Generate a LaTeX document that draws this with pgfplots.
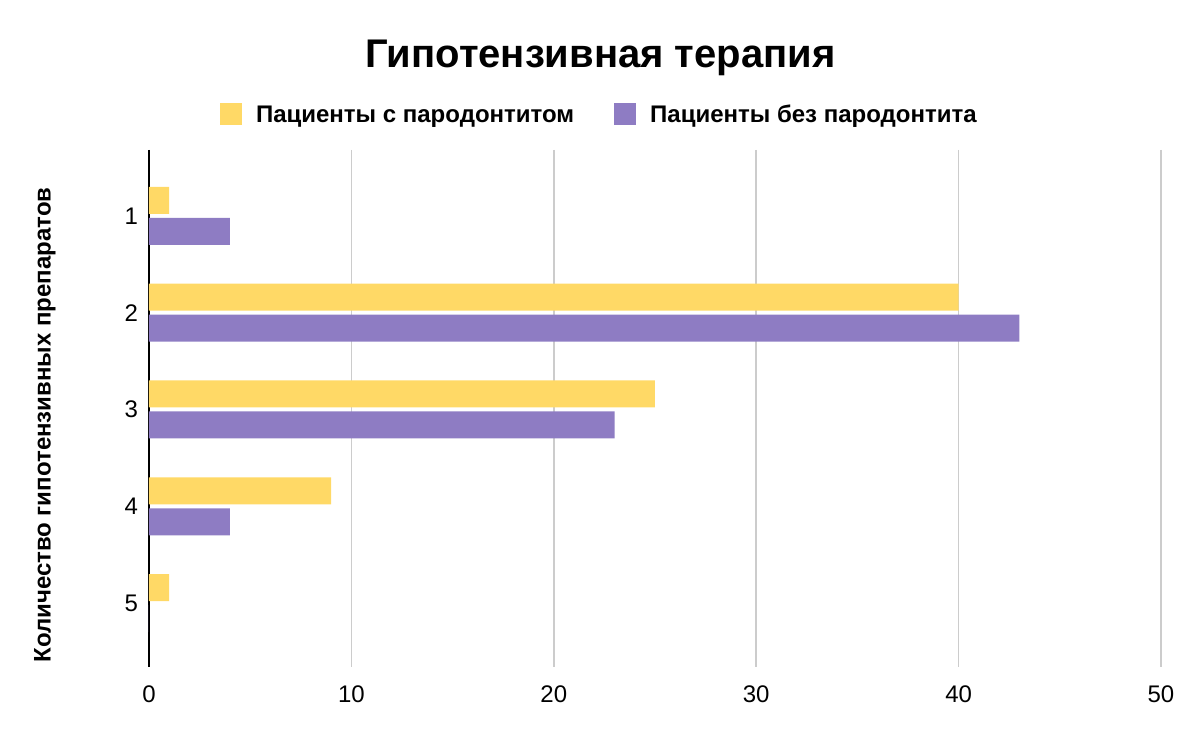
\documentclass[border=0pt]{standalone}
\usepackage{fontspec}
\setmainfont{Liberation Sans}
\usepackage{pgfplots}
\pgfplotsset{compat=1.18}
\definecolor{cyel}{HTML}{FFD966}
\definecolor{cpur}{HTML}{8E7CC3}
\definecolor{cgrid}{HTML}{CCCCCC}
\begin{document}
\begin{tikzpicture}
\begin{axis}[
  at={(0,0)}, anchor=south west,
  scale only axis, width=506pt, height=258.5pt,
  xbar, y dir=reverse,
  xmin=0, xmax=50, ymin=0.32, ymax=5.66,
  xtick={0,10,20,30,40,50},
  ytick={1,2,3,4,5},
  xmajorgrids, major grid style={cgrid, line width=0.8pt},
  extra x ticks={0}, extra x tick labels={},
  extra x tick style={major grid style={black, line width=0.8pt}},
  axis line style={draw=none},
  major tick length=0pt,
  tick label style={font=\fontsize{12}{14}\selectfont},
  /pgf/number format/assume math mode=true,
  xticklabel style={yshift=-6pt},
  yticklabel style={xshift=-2pt},
  bar width=13.5pt,
  title={\bfseries Гипотензивная терапия},
  title style={font=\fontsize{20}{24}\selectfont, at={(axis description cs:0.446,1)}, anchor=base, yshift=35pt},
  ylabel={\bfseries Количество гипотензивных препаратов},
  ylabel style={font=\fontsize{12}{14}\selectfont, at={(axis description cs:-0.103,0.468)}, anchor=center},
  legend columns=2,
  legend style={draw=none, at={(axis description cs:0.446,1)}, anchor=center, yshift=18pt,
    font=\fontsize{12}{14}\selectfont\bfseries,
    /tikz/every even column/.append style={column sep=18pt}},
  legend image code/.code={\fill[#1] (0pt,-5.5pt) rectangle (11pt,5.5pt); \path (16pt,0pt);},
]
\addplot[fill=cyel, draw=none, bar shift=7.75pt] coordinates {(1,1) (40,2) (25,3) (9,4) (1,5)};
\addplot[fill=cpur, draw=none, bar shift=-7.75pt] coordinates {(4,1) (43,2) (23,3) (4,4) (0,5)};
\legend{\strut Пациенты с пародонтитом, \strut Пациенты без пародонтита}
\end{axis}
\pgfresetboundingbox
\path (-74.5pt,-37.5pt) rectangle (525.5pt,333.5pt);
\end{tikzpicture}
\end{document}
